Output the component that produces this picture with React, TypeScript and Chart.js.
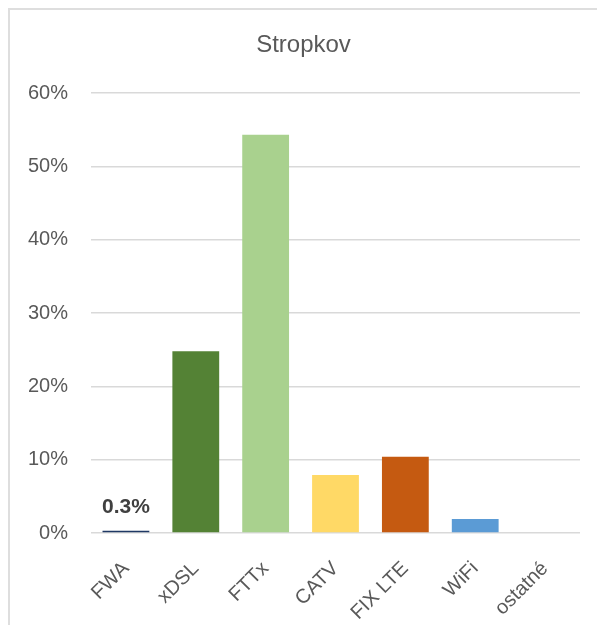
import React, { useEffect, useRef } from "react";
import { Chart, registerables } from "chart.js";

Chart.register(...registerables);

// Share of fixed broadband access technologies in Stropkov (%)
const categories = ["FWA", "xDSL", "FTTx", "CATV", "FIX LTE", "WiFi", "ostatné"];
const shares = [0.3, 24.8, 54.3, 7.9, 10.4, 1.9, 0.1];
const barColors = ["#1f3864", "#548235", "#a9d18e", "#ffd966", "#c55a11", "#5b9bd5", "#bfbfbf"];
const yTicks = [0, 10, 20, 30, 40, 50, 60];
const labelledCategories = ["FWA"];
const chartTitle = "Stropkov";

const FONT = "'Liberation Sans', Arial, sans-serif";

// Title centred over the whole chart frame
const frameTitlePlugin = {
  id: "frameTitle",
  afterDraw(chart: any) {
    const ctx = chart.ctx;
    ctx.save();
    ctx.font = `24px ${FONT}`;
    ctx.fillStyle = "#595959";
    ctx.textAlign = "center";
    ctx.textBaseline = "middle";
    ctx.fillText(chartTitle, chart.width / 2, 35);
    ctx.restore();
  },
};

// Writes the share above the bars listed in labelledCategories
const valueLabelPlugin = {
  id: "valueLabels",
  afterDatasetsDraw(chart: any) {
    const ctx = chart.ctx;
    const meta = chart.getDatasetMeta(0);
    ctx.save();
    ctx.font = `bold 21px ${FONT}`;
    ctx.fillStyle = "#404040";
    ctx.textAlign = "center";
    ctx.textBaseline = "alphabetic";
    meta.data.forEach((bar: any, i: number) => {
      if (!labelledCategories.includes(categories[i])) return;
      ctx.fillText(`${shares[i].toFixed(1)}%`, bar.x, bar.y - 18);
    });
    ctx.restore();
  },
};

export default function App() {
  const canvasRef = useRef<HTMLCanvasElement | null>(null);

  useEffect(() => {
    if (!canvasRef.current) return;
    const chart = new Chart(canvasRef.current, {
      type: "bar",
      data: {
        labels: categories,
        datasets: [
          {
            data: shares,
            backgroundColor: barColors,
            borderWidth: 0,
            categoryPercentage: 1,
            barPercentage: 0.67,
          },
        ],
      },
      options: {
        responsive: false,
        animation: false,
        devicePixelRatio: 1,
        layout: { padding: { left: 0, right: 17, top: 83, bottom: 0 } },
        plugins: {
          legend: { display: false },
          tooltip: { enabled: false },
          title: { display: false },
        },
        scales: {
          x: {
            grid: { display: false, drawTicks: false },
            border: { display: false },
            ticks: {
              color: "#595959",
              font: { family: FONT, size: 20 },
              minRotation: 45,
              maxRotation: 45,
              padding: 24,
              autoSkip: false,
            },
            afterFit(scale: any) {
              scale.height = 92;
            },
          },
          y: {
            min: 0,
            max: 60,
            afterBuildTicks(scale: any) {
              scale.ticks = yTicks.map((v) => ({ value: v }));
            },
            grid: { color: "#d9d9d9", lineWidth: 1.5, drawTicks: false },
            border: { display: false },
            ticks: {
              color: "#595959",
              font: { family: FONT, size: 20 },
              padding: 23,
              callback: (v: any) => `${v}%`,
            },
            afterFit(scale: any) {
              scale.width = 81;
            },
          },
        },
      },
      plugins: [valueLabelPlugin, frameTitlePlugin],
    });
    return () => chart.destroy();
  }, []);

  return (
    <div
      style={{
        position: "relative",
        width: 589,
        height: 617,
        borderLeft: "2px solid #dedede",
        borderTop: "2px solid #dedede",
        boxSizing: "border-box",
        background: "#fff",
      }}
    >
      <canvas ref={canvasRef} width={587} height={615} style={{ display: "block" }} />
    </div>
  );
}
